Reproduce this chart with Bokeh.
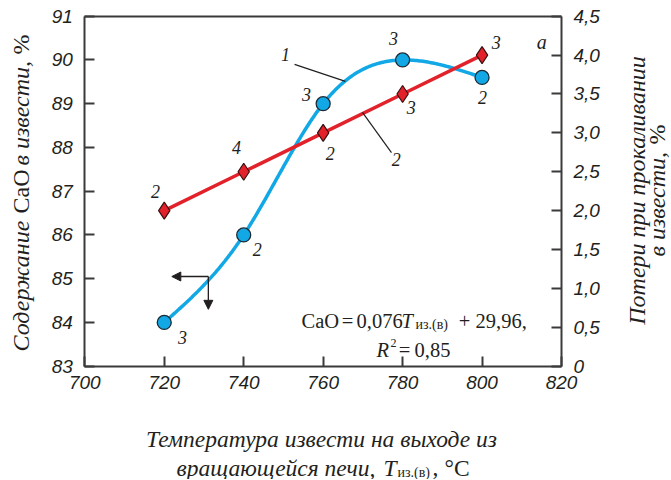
import numpy as np
from bokeh.plotting import figure
from bokeh.models import (Range1d, LinearAxis, FixedTicker, Label, Arrow, NormalHead)
from bokeh.embed import file_html
from bokeh.resources import INLINE

# ---- data ----
temps = [720, 740, 760, 780, 800]
cao = [84.0, 86.0, 89.0, 90.0, 89.6]          # curve 1, left axis
loss = [2.0, 2.5, 3.0, 3.5, 4.0]             # curve 2, right axis
cao_counts = ["3", "2", "3", "3", "2"]
loss_counts = ["2", "4", "2", "3", "3"]
x_ticks = [700, 720, 740, 760, 780, 800, 820]
left_ticks = [83, 84, 85, 86, 87, 88, 89, 90, 91]
right_ticks = [0, 0.5, 1.0, 1.5, 2.0, 2.5, 3.0, 3.5, 4.0, 4.5]
right_tick_labels = ["0", "0,5", "1,0", "1,5", "2,0", "2,5", "3,0", "3,5", "4,0", "4,5"]

BLUE = "#12a8e6"
RED = "#e3212a"
INK = "#231f20"
AX = "#3a3a3a"

# layout: the data frame of the chart sits at these page pixels
FX0, FX1, FY0, FY1 = 85.3, 562.0, 16.7, 366.7
W, H, OX, OY = 670, 479, 1, 1

def px2x(px):
    return 700 + (px - FX0) * 120 / (FX1 - FX0)

def py2y(py):
    return 91 - (py - FY0) * 8 / (FY1 - FY0)

def py2r(py):
    return 4.5 - (py - FY0) * 4.5 / (FY1 - FY0)

p = figure(width=W, height=H,
           x_range=Range1d(px2x(OX), px2x(OX + W)),
           y_range=Range1d(py2y(OY + H), py2y(OY)),
           output_backend="svg", toolbar_location=None,
           min_border_left=0, min_border_right=0, min_border_top=0, min_border_bottom=0)
p.extra_y_ranges = {"loss": Range1d(py2r(OY + H), py2r(OY))}
p.grid.visible = False
p.outline_line_color = None
p.background_fill_color = "white"
p.border_fill_color = "white"

def style_axis(ax):
    ax.axis_line_color = AX
    ax.axis_line_width = 2
    ax.major_tick_line_color = AX
    ax.major_tick_line_width = 2
    ax.major_tick_in = 10
    ax.major_tick_out = 0
    ax.minor_tick_line_color = None
    ax.major_label_text_font = "Liberation Sans"
    ax.major_label_text_font_style = "italic"
    ax.major_label_text_font_size = "19px"
    ax.major_label_text_color = INK
    ax.major_label_standoff = 12

xa = p.xaxis[0]
xa.ticker = FixedTicker(ticks=x_ticks)
xa.fixed_location = 83
xa.bounds = (700, 820)
style_axis(xa)
xa.major_label_standoff = 10

ya = p.yaxis[0]
ya.ticker = FixedTicker(ticks=left_ticks)
ya.fixed_location = 700
ya.bounds = (83, 91)
style_axis(ya)

ra = LinearAxis(y_range_name="loss", ticker=FixedTicker(ticks=right_ticks), fixed_location=820,
                bounds=(0, 4.5),
                major_label_overrides={t: s for t, s in zip(right_ticks, right_tick_labels)})
style_axis(ra)
p.add_layout(ra, "right")

ta = LinearAxis(ticker=FixedTicker(ticks=[]), fixed_location=91, bounds=(700, 820))
style_axis(ta)
ta.major_label_text_font_size = "0px"
p.add_layout(ta, "above")

# ---- smooth curve 1 (natural cubic spline through the measured points) ----
def natural_spline(xs, ys, xq):
    xs = np.asarray(xs, float); ys = np.asarray(ys, float)
    n = len(xs); h = np.diff(xs)
    A = np.zeros((n, n)); b = np.zeros(n)
    A[0, 0] = 1; A[-1, -1] = 1
    for i in range(1, n - 1):
        A[i, i - 1] = h[i - 1]; A[i, i] = 2 * (h[i - 1] + h[i]); A[i, i + 1] = h[i]
        b[i] = 6 * ((ys[i + 1] - ys[i]) / h[i] - (ys[i] - ys[i - 1]) / h[i - 1])
    M = np.linalg.solve(A, b)
    out = []
    for x in xq:
        i = min(max(np.searchsorted(xs, x) - 1, 0), n - 2)
        hi = h[i]; a = xs[i + 1] - x; c = x - xs[i]
        out.append(M[i] * a ** 3 / (6 * hi) + M[i + 1] * c ** 3 / (6 * hi)
                   + (ys[i] / hi - M[i] * hi / 6) * a + (ys[i + 1] / hi - M[i + 1] * hi / 6) * c)
    return np.array(out)

xs_s = np.linspace(temps[0], temps[-1], 200)
p.line(xs_s, natural_spline(temps, cao, xs_s), line_color=BLUE, line_width=3.5)
p.line(temps, loss, y_range_name="loss", line_color=RED, line_width=3.5)
p.scatter(temps, cao, marker="circle", size=14, fill_color=BLUE, line_color="#1d2a33", line_width=1.3)
p.scatter(temps, loss, y_range_name="loss", marker="diamond", size=17, fill_color=RED,
          line_color="#3a1010", line_width=1.2)

def lab(x, y, text, size="18px", style="italic", font="Liberation Serif", align="center",
        baseline="middle", angle=0):
    p.add_layout(Label(x=x, y=y, text=text, text_font=font, text_font_style=style,
                       text_font_size=size, text_color=INK, text_align=align,
                       text_baseline=baseline, angle=angle))

# count labels
cao_lab_pos = [(724.6, 83.65), (743.4, 85.67), (755.8, 89.21), (777.7, 90.49), (800.1, 89.14)]
loss_lab_pos = [(717.8, 86.99), (738.2, 88.0), (761.8, 87.86), (782.2, 88.91), (803.6, 90.40)]
for (x, y), t in zip(cao_lab_pos, cao_counts):
    lab(x, y, t)
for (x, y), t in zip(loss_lab_pos, loss_counts):
    lab(x, y, t)

# curve labels with leader lines
lab(750.5, 90.12, "1")
p.line([752.8, 765.6], [89.90, 89.51], line_color=INK, line_width=1.2)
lab(778.4, 87.72, "2")
p.line([769.9, 777.2], [88.80, 87.88], line_color=INK, line_width=1.2)
lab(815.0, 90.42, "a", size="20px")

# axis-direction arrows
p.add_layout(Arrow(x_start=731.1, y_start=85.05, x_end=721.9, y_end=85.05, line_color=INK,
                   line_width=1.3, end=NormalHead(size=9, fill_color=INK, line_color=INK)))
p.add_layout(Arrow(x_start=731.1, y_start=85.05, x_end=731.1, y_end=84.30, line_color=INK,
                   line_width=1.3, end=NormalHead(size=9, fill_color=INK, line_color=INK)))

# equation
EQ = "20.5px"
AB = "alphabetic"
lab(px2x(302), py2y(321), "CaO", size=EQ, style="normal", align="left", baseline=AB)
lab(px2x(348), py2y(321), "=", size=EQ, style="normal", baseline=AB)
lab(px2x(357), py2y(321), "0,076", size=EQ, style="normal", align="left", baseline=AB)
lab(px2x(402), py2y(321), "T", size=EQ, style="italic", align="left", baseline=AB)
lab(px2x(416), py2y(325), "из.(в)", size="14px", style="normal", align="left", baseline=AB)
lab(px2x(465), py2y(321), "+", size=EQ, style="normal", baseline=AB)
lab(px2x(476), py2y(321), "29,96,", size=EQ, style="normal", align="left", baseline=AB)
lab(px2x(377), py2y(350), "R", size=EQ, style="italic", align="left", baseline=AB)
lab(px2x(391), py2y(343), "2", size="12px", style="normal", align="left", baseline=AB)
lab(px2x(405), py2y(350), "=", size=EQ, style="normal", baseline=AB)
lab(px2x(415), py2y(350), "0,85", size=EQ, style="normal", align="left", baseline=AB)

# axis titles
TT = "24px"
UP = np.pi / 2
lab(px2x(21), py2y(352), "Содержание", size=TT, align="left", angle=UP)
lab(px2x(21), py2y(214), "CaO", size=TT, style="normal", align="left", angle=UP)
lab(px2x(21), py2y(166), "в извести,", size=TT, align="left", angle=UP)
lab(px2x(21), py2y(55), "%", size=TT, style="normal", align="left", angle=UP)

lab(px2x(637), py2y(191), "Потери при прокаливании", size=TT, angle=UP)
lab(px2x(657), py2y(257), "в извести,", size=TT, align="left", angle=UP)
lab(px2x(657), py2y(145), "%", size=TT, style="normal", align="left", angle=UP)

BT = "23.5px"
lab(px2x(322), py2y(439), "Температура извести на выходе из", size=BT, baseline=AB)
lab(px2x(177), py2y(468), "вращающейся печи,", size=BT, align="left", baseline=AB)
lab(px2x(384), py2y(468), "T", size=BT, align="left", baseline=AB)
lab(px2x(398), py2y(473), "из.(в)", size="14px", style="normal", align="left", baseline=AB)
lab(px2x(433), py2y(468), ",", size=BT, style="normal", align="left", baseline=AB)
lab(px2x(445), py2y(468), "°C", size=BT, style="normal", align="left", baseline=AB)

open("out.html", "w").write(file_html(p, INLINE))
